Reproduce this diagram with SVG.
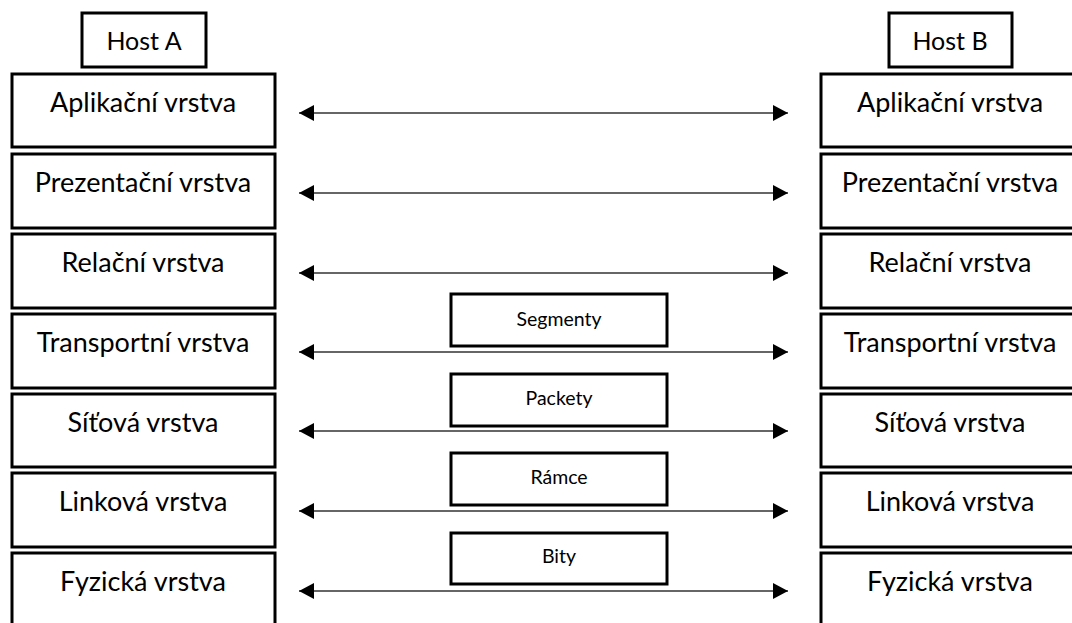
<svg xmlns="http://www.w3.org/2000/svg" width="1072" height="623" viewBox="0 0 1072 623">
<style>
.box{fill:#fff;stroke:#000;stroke-width:3}
.lbl{font-family:Lato,"Liberation Sans",sans-serif;font-size:27px;fill:#000;text-anchor:middle}
.hd{font-family:Lato,"Liberation Sans",sans-serif;font-size:25px;fill:#000;text-anchor:middle}
.sm{font-family:Lato,"Liberation Sans",sans-serif;font-size:19.5px;fill:#000;text-anchor:middle}
.arr{stroke:#333;stroke-width:1.5;fill:none;marker-start:url(#ah);marker-end:url(#ah)}
</style>
<defs>
<marker id="ah" viewBox="0 0 15 16" refX="15" refY="8" markerWidth="15" markerHeight="16" markerUnits="userSpaceOnUse" orient="auto-start-reverse">
<path d="M0,0 L15,8 L0,16 Z" fill="#000"/>
</marker>
</defs>
<rect width="1072" height="623" fill="#fff"/>
<g id="hostA"><rect class="box" x="82" y="13" width="124" height="54"/><text class="hd" x="144" y="50">Host A</text></g>
<g id="hostB"><rect class="box" x="889" y="13" width="123" height="54"/><text class="hd" x="950" y="50">Host B</text></g>
<g id="a1"><rect class="box" x="12" y="74" width="263" height="73"/><text class="lbl" x="143" y="112">Aplikační vrstva</text></g>
<g id="a2"><rect class="box" x="12" y="154" width="263" height="74"/><text class="lbl" x="143" y="192">Prezentační vrstva</text></g>
<g id="a3"><rect class="box" x="12" y="234" width="263" height="74"/><text class="lbl" x="143" y="272">Relační vrstva</text></g>
<g id="a4"><rect class="box" x="12" y="314" width="263" height="74"/><text class="lbl" x="143" y="352">Transportní vrstva</text></g>
<g id="a5"><rect class="box" x="12" y="394" width="263" height="73"/><text class="lbl" x="143" y="432">Síťová vrstva</text></g>
<g id="a6"><rect class="box" x="12" y="473" width="263" height="74"/><text class="lbl" x="143" y="511">Linková vrstva</text></g>
<g id="a7"><rect class="box" x="12" y="553" width="263" height="80"/><text class="lbl" x="143" y="591">Fyzická vrstva</text></g>
<g id="b1"><rect class="box" x="821" y="74" width="263" height="73"/><text class="lbl" x="950" y="112">Aplikační vrstva</text></g>
<g id="b2"><rect class="box" x="821" y="154" width="263" height="74"/><text class="lbl" x="950" y="192">Prezentační vrstva</text></g>
<g id="b3"><rect class="box" x="821" y="234" width="263" height="74"/><text class="lbl" x="950" y="272">Relační vrstva</text></g>
<g id="b4"><rect class="box" x="821" y="314" width="263" height="74"/><text class="lbl" x="950" y="352">Transportní vrstva</text></g>
<g id="b5"><rect class="box" x="821" y="394" width="263" height="73"/><text class="lbl" x="950" y="432">Síťová vrstva</text></g>
<g id="b6"><rect class="box" x="821" y="473" width="263" height="74"/><text class="lbl" x="950" y="511">Linková vrstva</text></g>
<g id="b7"><rect class="box" x="821" y="553" width="263" height="80"/><text class="lbl" x="950" y="591">Fyzická vrstva</text></g>
<g id="m1"><rect class="box" x="451" y="294" width="216" height="52"/><text class="sm" x="559" y="326">Segmenty</text></g>
<g id="m2"><rect class="box" x="451" y="374" width="216" height="52"/><text class="sm" x="559" y="405">Packety</text></g>
<g id="m3"><rect class="box" x="451" y="453" width="216" height="52"/><text class="sm" x="559" y="484">Rámce</text></g>
<g id="m4"><rect class="box" x="451" y="533" width="216" height="51"/><text class="sm" x="559" y="563">Bity</text></g>
<g id="connectors">
<line class="arr" x1="299" y1="113" x2="788" y2="113"/>
<line class="arr" x1="299" y1="193" x2="788" y2="193"/>
<line class="arr" x1="299" y1="273" x2="788" y2="273"/>
<line class="arr" x1="299" y1="352" x2="788" y2="352"/>
<line class="arr" x1="299" y1="431" x2="788" y2="431"/>
<line class="arr" x1="299" y1="511" x2="788" y2="511"/>
<line class="arr" x1="299" y1="591" x2="788" y2="591"/>
</g>
</svg>
